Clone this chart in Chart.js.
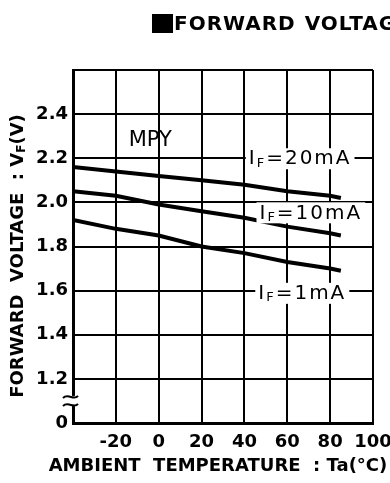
<!DOCTYPE html>
<html>
<head>
<meta charset="utf-8">
<script src="https://cdn.jsdelivr.net/npm/chart.js@4.4.1/dist/chart.umd.min.js"></script>
<style>
  html, body { margin: 0; padding: 0; background: #fff; overflow: hidden; }
  #wrap { position: relative; width: 390px; height: 483px; overflow: hidden; }
  #titulo {
    position: absolute; left: 152px; top: 11px; white-space: nowrap;
    font: bold 20px "DejaVu Sans", sans-serif; color: #000;
    letter-spacing: 1px; word-spacing: 1px;
  }
  #titulo .quadrado {
    display: inline-block; width: 21px; height: 19px; background: #000;
    vertical-align: -3px; margin-right: 1px;
  }
  #grafico { position: absolute; left: 0; top: 0; }
</style>
</head>
<body>
<div id="wrap">
  <canvas id="grafico" width="390" height="483"></canvas>
  <div id="titulo"><span class="quadrado"></span>FORWARD VOLTAGE</div>
</div>
<script>
// valores
const temperaturas = [-40, -20, 0, 20, 40, 60, 80, 85];
const vf20mA = [2.16, 2.14, 2.12, 2.10, 2.08, 2.05, 2.03, 2.02];
const vf10mA = [2.05, 2.03, 1.99, 1.96, 1.93, 1.89, 1.86, 1.85];
const vf1mA = [1.92, 1.88, 1.85, 1.80, 1.77, 1.73, 1.70, 1.69];
const correntes = ['20', '10', '1'];

const ticksX = [-40, -20, 0, 20, 40, 60, 80, 100];
const ticksY = [1.0, 1.2, 1.4, 1.6, 1.8, 2.0, 2.2, 2.4, 2.6];

// onde ficam as etiquetas de cada curva (valores de eixo)
const posEtiquetas = [
  { x: 66, y: 2.2 },
  { x: 71, y: 1.955 },
  { x: 67, y: 1.59 }
];

function serie(valores) {
  return temperaturas.map((t, i) => ({ x: t, y: valores[i] }));
}

const fonteBold = '"DejaVu Sans", sans-serif';

// texto com "F" subscrito (I_F, V_F)
function textoComSub(ctx, partes, x, y, medir) {
  let w = 0;
  partes.forEach(p => {
    ctx.font = p.font;
    const largura = ctx.measureText(p.t).width;
    if (!medir) ctx.fillText(p.t, x + w, y + (p.dy || 0));
    w += largura;
  });
  return w;
}

const pluginExtras = {
  id: 'extras',
  afterDatasetsDraw(chart) {
    const ctx = chart.ctx;
    const sx = chart.scales.x;
    const sy = chart.scales.y;
    const area = chart.chartArea;

    // quebra do eixo entre 0 e 1.2
    const yq = sy.getPixelForValue(1.1);
    ctx.save();
    ctx.fillStyle = '#fff';
    ctx.fillRect(area.left - 3, yq - 5, 6, 9);
    ctx.strokeStyle = '#000';
    ctx.lineWidth = 2;
    [-4, 4].forEach(d => {
      ctx.beginPath();
      ctx.moveTo(area.left - 10, yq + d + 1);
      ctx.bezierCurveTo(area.left - 5, yq + d - 4, area.left + 1, yq + d + 4, area.left + 5, yq + d - 1);
      ctx.stroke();
    });
    ctx.restore();

    // MPY
    ctx.save();
    ctx.fillStyle = '#000';
    ctx.font = '21px ' + fonteBold;
    ctx.textBaseline = 'middle';
    ctx.textAlign = 'left';
    ctx.fillText('MPY', sx.getPixelForValue(-14), sy.getPixelForValue(2.28));
    ctx.restore();

    // etiquetas I_F = xx mA
    ctx.save();
    ctx.textBaseline = 'middle';
    ctx.textAlign = 'left';
    ctx.fillStyle = '#000';
    if ('letterSpacing' in ctx) ctx.letterSpacing = '2px';
    correntes.forEach((c, i) => {
      const partes = [
        { t: 'I', font: '20px ' + fonteBold },
        { t: 'F', font: '13px ' + fonteBold, dy: 4 },
        { t: '=' + c + 'mA', font: '20px ' + fonteBold }
      ];
      const w = textoComSub(ctx, partes, 0, 0, true);
      const cx = sx.getPixelForValue(posEtiquetas[i].x);
      const cy = sy.getPixelForValue(posEtiquetas[i].y);
      ctx.fillStyle = '#fff';
      ctx.fillRect(cx - w / 2 - 3, cy - 10, w + 6, 21);
      ctx.fillStyle = '#000';
      textoComSub(ctx, partes, cx - w / 2, cy + 1, false);
    });
    ctx.restore();

    // títulos dos eixos
    ctx.save();
    ctx.fillStyle = '#000';
    ctx.textBaseline = 'middle';
    ctx.textAlign = 'left';
    const partesX = [{ t: 'AMBIENT  TEMPERATURE  : Ta(°C)', font: 'bold 18px ' + fonteBold }];
    const wx = textoComSub(ctx, partesX, 0, 0, true);
    textoComSub(ctx, partesX, 218 - wx / 2, 466, false);

    const partesY = [
      { t: 'FORWARD  VOLTAGE  : V', font: 'bold 18px ' + fonteBold },
      { t: 'F', font: 'bold 12px ' + fonteBold, dy: 4 },
      { t: '(V)', font: 'bold 18px ' + fonteBold }
    ];
    ctx.translate(18, 256);
    ctx.rotate(-Math.PI / 2);
    const wy = textoComSub(ctx, partesY, 0, 0, true);
    textoComSub(ctx, partesY, -wy / 2, 0, false);
    ctx.restore();
  }
};

window.addEventListener('DOMContentLoaded', () => {
  const ctx = document.getElementById('grafico').getContext('2d');
  const estiloLinha = { borderColor: '#000', borderWidth: 4, pointRadius: 0, tension: 0, fill: false };

  new Chart(ctx, {
    type: 'line',
    data: {
      datasets: [
        { label: 'IF=20mA', data: serie(vf20mA), ...estiloLinha },
        { label: 'IF=10mA', data: serie(vf10mA), ...estiloLinha },
        { label: 'IF=1mA', data: serie(vf1mA), ...estiloLinha }
      ]
    },
    options: {
      responsive: false,
      animation: false,
      layout: { padding: { left: 0, right: 17, top: 70, bottom: 0 } },
      plugins: { legend: { display: false }, tooltip: { enabled: false }, title: { display: false } },
      scales: {
        x: {
          type: 'linear', min: -40, max: 100,
          afterBuildTicks: s => { s.ticks = ticksX.map(v => ({ value: v })); },
          afterFit: s => { s.height = 60; s.paddingRight = 0; s.paddingLeft = 0; },
          grid: { color: '#000', lineWidth: 2, drawTicks: false },
          border: { color: '#000', width: 3 },
          ticks: {
            color: '#000', padding: 9, maxRotation: 0,
            font: { family: fonteBold, size: 18, weight: 'bold' },
            callback: v => (v === -40 ? '' : String(v))
          }
        },
        y: {
          type: 'linear', min: 1.0, max: 2.6,
          afterBuildTicks: s => { s.ticks = ticksY.map(v => ({ value: v })); },
          afterFit: s => { s.width = 73; s.paddingTop = 0; s.paddingBottom = 0; },
          grid: { color: '#000', lineWidth: 2, drawTicks: false },
          border: { color: '#000', width: 3 },
          ticks: {
            color: '#000', padding: 5,
            font: { family: fonteBold, size: 18, weight: 'bold' },
            callback: v => (Math.abs(v - 1) < 1e-6 ? '0' : Math.abs(v - 2.6) < 1e-6 ? '' : v.toFixed(1))
          }
        }
      }
    },
    plugins: [pluginExtras]
  });
});
</script>
</body>
</html>
